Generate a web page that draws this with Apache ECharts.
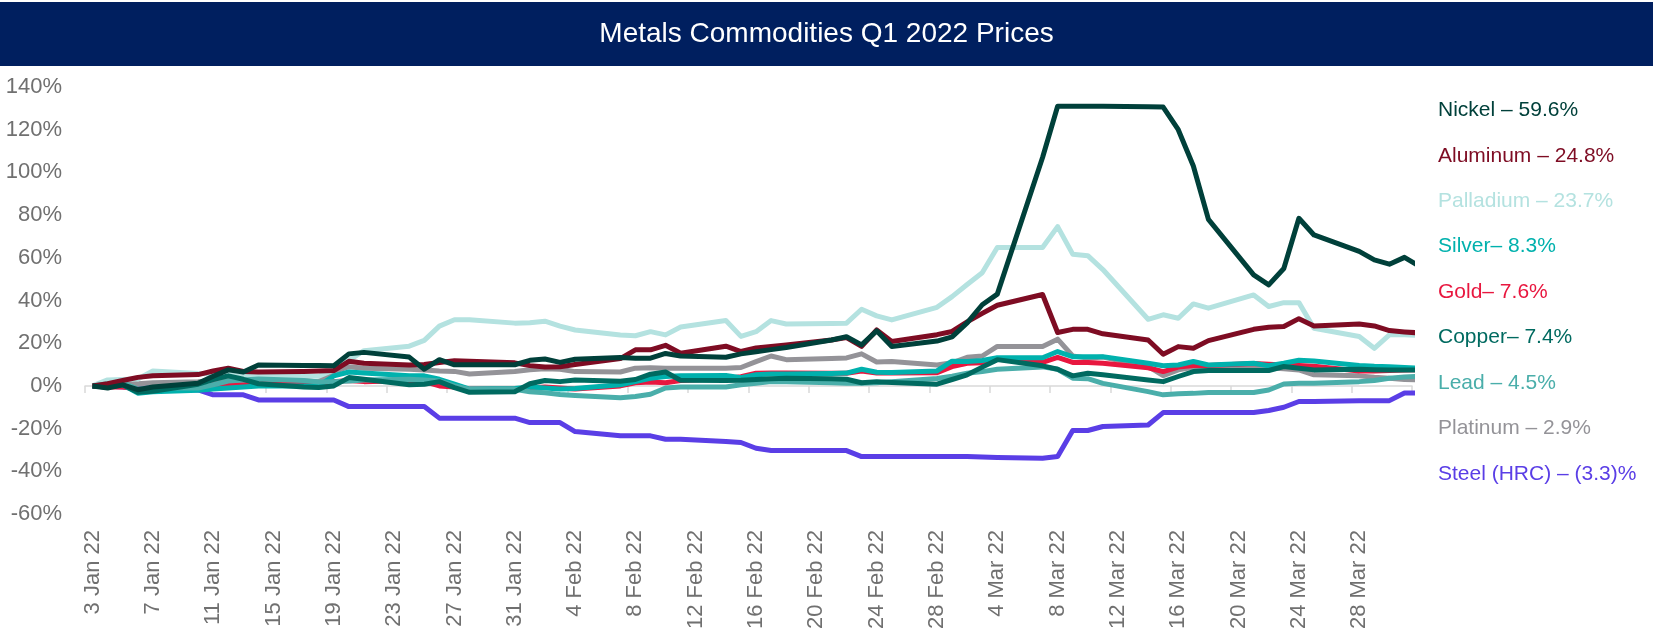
<!DOCTYPE html>
<html>
<head>
<meta charset="utf-8">
<script src="https://cdn.jsdelivr.net/npm/echarts@6/dist/echarts.min.js"></script>
<style>
html,body{margin:0;padding:0;background:#fff;}
#chart{width:1653px;height:640px;}
</style>
</head>
<body>
<div id="chart"></div>
<script>
// ---------- data ----------
const titleText = 'Metals Commodities Q1 2022 Prices';
const axisStart = '2022-01-03';       // first calendar day on the axis
const axisDays = 88;                  // 3 Jan .. 31 Mar
const tickLabels = ['3 Jan 22','7 Jan 22','11 Jan 22','15 Jan 22','19 Jan 22','23 Jan 22','27 Jan 22','31 Jan 22',
  '4 Feb 22','8 Feb 22','12 Feb 22','16 Feb 22','20 Feb 22','24 Feb 22','28 Feb 22',
  '4 Mar 22','8 Mar 22','12 Mar 22','16 Mar 22','20 Mar 22','24 Mar 22','28 Mar 22'];
const yTicks = [-60,-40,-20,0,20,40,60,80,100,120,140];

const tradingDates = [
  '2022-01-03','2022-01-04','2022-01-05','2022-01-06','2022-01-07','2022-01-10','2022-01-11','2022-01-12','2022-01-13','2022-01-14',
  '2022-01-17','2022-01-18','2022-01-19','2022-01-20','2022-01-21','2022-01-24','2022-01-25','2022-01-26','2022-01-27','2022-01-28','2022-01-31',
  '2022-02-01','2022-02-02','2022-02-03','2022-02-04','2022-02-07','2022-02-08','2022-02-09','2022-02-10','2022-02-11',
  '2022-02-14','2022-02-15','2022-02-16','2022-02-17','2022-02-18','2022-02-21','2022-02-22','2022-02-23','2022-02-24','2022-02-25','2022-02-28',
  '2022-03-01','2022-03-02','2022-03-03','2022-03-04','2022-03-07','2022-03-08','2022-03-09','2022-03-10','2022-03-11',
  '2022-03-14','2022-03-15','2022-03-16','2022-03-17','2022-03-18','2022-03-21','2022-03-22','2022-03-23','2022-03-24','2022-03-25',
  '2022-03-28','2022-03-29','2022-03-30','2022-03-31','2022-04-01'];

const nickel = [0,-1,0.5,-1.8,-0.5,1.2,4.5,7.5,6.5,9.8,9.6,9.5,9.4,15,15.7,13.5,7.8,12.3,9.9,9.9,9.9,
  12,12.6,11,12.5,13.3,13,13,15.2,14,13.4,15,16,17,18,21.5,23,19.2,25.8,18.5,21,
  23,29.5,38,43,107,131,131,131,131,130.8,130.6,120,103,78,52,47.3,55,78.5,70.7,63,59,57,60.2,56];
const aluminum = [0,1,2.5,4,4.8,5.3,7,8.3,6.8,6.5,6.8,7,7.2,11.5,10.6,9.8,10,11,11.8,11.6,10.8,
  9.5,8.8,9,10,12.8,16.9,16.9,19,15.3,18.6,16.1,17.8,18.5,19.2,21.5,22.6,18.5,26.2,20.8,24,
  25.5,30,34,37.8,42.8,25,26.5,26.5,24.4,21.5,14.8,18.4,17.6,21.2,26.5,27.5,27.8,31.5,28.1,29,28.1,25.9,25.3,24.8];
const palladium = [0,2.8,3,3.2,7,5.8,5.6,5.5,5.3,5,4.6,4.5,7.5,12,16.5,18.6,21.3,28,31,31,29.4,
  29.6,30.3,28,26.2,23.8,23.5,25.4,23.9,27.6,30.6,23.2,25.4,30.6,29,29.2,29.4,35.9,32.8,30.9,36.8,
  41.8,47.5,53,64.8,64.8,74.6,61.7,61,54.5,31.2,33.3,31.7,38.4,36.4,42.6,37.2,39,39,27,23.1,17.6,23.9,23.9,23.7];
const silver = [0,-0.5,0.5,-3.4,-2.7,-2,-1.5,-1,-0.5,0,0,0,4.7,6.5,6,4.8,4.7,3.1,0.8,-1.5,-1.2,
  -0.5,-1,-1.5,-1.2,0.5,2,3.6,4.4,4.7,4.9,3.8,5.2,5.6,5.6,5.8,6,7.8,6.4,6.3,7,
  11.6,11.4,11.9,13.2,13.2,16.1,13.7,13.7,13.7,10.6,9.4,9.8,11.4,9.8,10.6,9.4,10.6,12,11.7,9.6,9.2,9,8.6,8.3];
const gold = [0,-0.5,-0.5,-1.5,-1.5,-1.5,-0.5,0.5,0.5,1,1,0.5,2,2.5,2,2.5,2,0,-0.5,-1.5,-1.5,
  -1,-0.5,-1,-1.5,0,1.5,1.8,1.5,2.5,3.5,4.3,5.9,6,6,5.9,5.9,7,6,6,6.2,
  9,10.6,10.8,12.5,11,13.4,11,11,10.6,8.5,6.7,8.8,9.5,9.5,10.5,10.2,9.8,9.5,9.2,7,7,7.2,7.5,7.6];
const copper = [0,-0.5,0.5,-3,-2.5,0.8,3,4.7,3.1,1,-0.5,-0.8,0,3.9,3.1,0.5,0.8,2,-0.8,-3,-2.7,
  1,2.5,2,2.8,2.2,3,5.5,6.5,2.6,2.5,2.6,3,3.4,3.6,3.4,3.1,1.5,2,1.6,0.8,
  3,5.2,8.8,12.3,9.4,7.8,4.7,5.9,5.2,2.8,2,4.4,6.7,7.2,7.2,7.2,9.1,8.3,7.5,7.8,7.6,7.5,7.5,7.4];
const lead = [0,1,1.5,-1.5,-1,-1,0.5,2.3,2.8,3.2,2.5,1.8,2,2.3,2.8,3.1,2.8,2.3,0,-1.6,-1.6,
  -2.7,-3.2,-4,-4.5,-5.6,-5,-3.9,-1,-0.5,-0.5,0.5,1.2,2,2,1.5,1.2,1.2,1.5,2,3.5,
  4.5,5.9,6.7,7.8,8.9,7.8,3.6,3.4,1.2,-2.7,-4.2,-3.7,-3.5,-3.1,-3.1,-1.9,0.9,1.2,1.2,2,2.5,3.6,4.2,4.5];
const platinum = [0,1,2,1,1.5,2,2.5,3,2.5,3,2.5,2,6.7,9,8.3,7.8,7.5,7,6.8,5.6,6.7,
  7.6,8,7.8,6.7,6.5,8.3,8.5,8.3,8.3,8.3,8.6,11.4,14,12.3,12.8,13.1,15,11.2,11.4,9.8,
  10.8,13.4,14,18.5,18.5,21.9,14,13,13.5,9.1,4.8,7.5,8.7,9,9.4,8.5,8,7.5,5.2,4.7,4,3.6,3,2.9];
const steel = [0,0,-0.5,-1,-1,-1.9,-4.2,-4.2,-4.2,-6.6,-6.6,-6.6,-6.6,-9.7,-9.7,-9.7,-9.7,-15.1,-15.1,-15.1,-15.1,
  -17.2,-17.2,-17.2,-21.4,-23.4,-23.4,-23.4,-25,-25,-26,-26.5,-29.2,-30.3,-30.3,-30.3,-30.3,-33.1,-33.1,-33.1,-33.1,
  -33.1,-33.1,-33.3,-33.5,-33.9,-33.1,-20.9,-20.9,-19,-18.3,-12.5,-12.5,-12.5,-12.5,-12.5,-11.5,-10,-7.3,-7.3,-7,-7,-6.9,-3.3,-3.3];

const seriesNames = ['Nickel','Aluminum','Palladium','Silver','Gold','Copper','Lead','Platinum','Steel (HRC)'];
const seriesValues = [nickel,aluminum,palladium,silver,gold,copper,lead,platinum,steel];
const endLabels = ['Nickel – 59.6%','Aluminum – 24.8%','Palladium – 23.7%','Silver– 8.3%','Gold– 7.6%',
  'Copper– 7.4%','Lead – 4.5%','Platinum – 2.9%','Steel (HRC) – (3.3)%'];
const seriesColors = ['#00403a','#7e0c23','#b4e2e0','#00b1ad','#e8173f','#006a60','#4aaeaa','#949398','#5a3ee6'];
// drawing order, bottom to top
const drawOrder = ['Steel (HRC)','Platinum','Palladium','Gold','Silver','Lead','Copper','Aluminum','Nickel'];

// ---------- build ----------
const FONT = "'Liberation Sans', Arial, Helvetica, sans-serif";
const t0 = Date.parse(axisStart + 'T00:00:00Z');
const dayIdx = tradingDates.map(d => Math.round((Date.parse(d + 'T00:00:00Z') - t0) / 86400000));
const calLabels = [];
for (let i = 0; i < axisDays; i++) calLabels.push(i % 4 === 0 ? tickLabels[i / 4] : '');

const series = drawOrder.map(name => {
  const k = seriesNames.indexOf(name);
  return {
    name: name, type: 'line', xAxisIndex: 0, yAxisIndex: 0,
    data: seriesValues[k].map((v, i) => [dayIdx[i], v]),
    showSymbol: false, symbol: 'none', clip: true,
    lineStyle: {color: seriesColors[k], width: 5, join: 'round', cap: 'butt'},
    itemStyle: {color: seriesColors[k]},
    z: 3, animation: false
  };
});

const gridLeft = 85, gridRight = 1412, gridTop = 87, gridBottom = 514;

const graphics = [
  {type: 'rect', left: 0, top: 2, shape: {x: 0, y: 0, width: 1653, height: 64}, style: {fill: '#001f5f'}, z: 0},
  {type: 'text', x: 826.5, y: 34, style: {text: titleText, fill: '#ffffff', font: '28px ' + FONT,
    align: 'center', verticalAlign: 'middle', textAlign: 'center', textVerticalAlign: 'middle'}, z: 1}
];
const labelY = [110, 156, 201, 246.7, 292, 337.7, 383, 428, 474];
endLabels.forEach((txt, k) => {
  graphics.push({type: 'text', x: 1438, y: labelY[k], style: {text: txt, fill: seriesColors[k], font: '21px ' + FONT,
    align: 'left', verticalAlign: 'middle', textAlign: 'left', textVerticalAlign: 'middle'}, z: 1});
});

const option = {
  backgroundColor: '#ffffff',
  animation: false,
  grid: {left: gridLeft, right: 1653 - gridRight, top: gridTop, bottom: 640 - gridBottom, containLabel: false},
  xAxis: [
    {type: 'value', min: -0.5, max: axisDays - 0.5, show: false, position: 'top'},
    {type: 'category', data: calLabels, boundaryGap: true, position: 'bottom',
      axisLine: {show: false, onZero: false}, axisTick: {show: false}, splitLine: {show: false},
      axisLabel: {interval: 0, rotate: 90, margin: 16, fontSize: 22, color: '#707070', fontFamily: FONT}},
    {type: 'value', min: -0.5, max: axisDays - 0.5, interval: 4, position: 'bottom',
      axisLine: {show: true, onZero: true, onZeroAxisIndex: 0, lineStyle: {color: '#d9d9d9', width: 1.5}},
      axisTick: {show: true, length: 7, lineStyle: {color: '#d9d9d9', width: 1.5}},
      axisLabel: {show: false}, splitLine: {show: false}}
  ],
  yAxis: [{
    type: 'value', min: yTicks[0], max: yTicks[yTicks.length - 1], interval: 20,
    axisLine: {show: false}, axisTick: {show: false}, splitLine: {show: false},
    axisLabel: {formatter: '{value}%', fontSize: 22, color: '#707070', fontFamily: FONT, margin: 23}
  }],
  graphic: graphics,
  series: series
};

const chart = echarts.init(document.getElementById('chart'), null, {renderer: 'canvas'});
chart.setOption(option);
</script>
</body>
</html>
